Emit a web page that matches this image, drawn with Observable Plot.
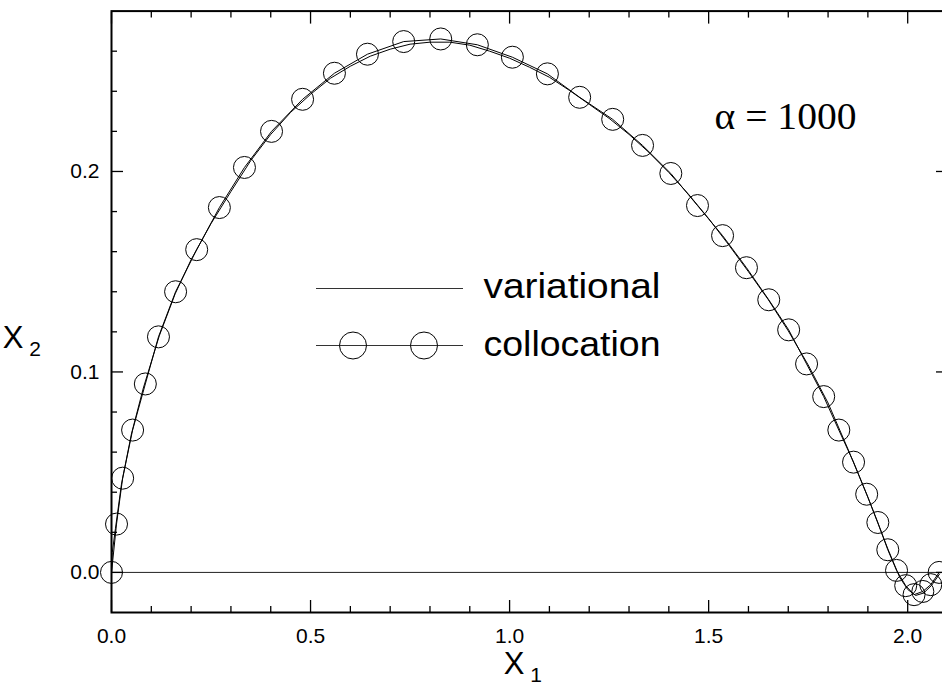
<!DOCTYPE html>
<html>
<head>
<meta charset="utf-8">
<script src="https://cdn.jsdelivr.net/npm/d3@7"></script>
<script src="https://cdn.jsdelivr.net/npm/@observablehq/plot@0.6"></script>
<style>
  html, body { margin: 0; padding: 0; background: #fff; overflow: hidden; }
  #chart svg { display: block; background: #fff; max-width: none !important; }
</style>
</head>
<body>
<div id="chart"></div>
<script>
// Collocation solution (circles)
const collocX = [0, 0.0126, 0.028, 0.053, 0.085, 0.118, 0.161, 0.214, 0.271, 0.334, 0.402,
  0.480, 0.560, 0.643, 0.734, 0.827, 0.919, 1.007, 1.095, 1.176, 1.259, 1.334, 1.405, 1.472,
  1.535, 1.595, 1.651, 1.701, 1.746, 1.789, 1.827, 1.864, 1.897, 1.925, 1.950, 1.972, 1.995,
  2.016, 2.038, 2.058, 2.079];
const collocY = [0, 0.0241, 0.047, 0.071, 0.094, 0.1175, 0.140, 0.161, 0.182, 0.202, 0.220,
  0.236, 0.249, 0.2585, 0.2648, 0.2661, 0.2632, 0.2570, 0.2487, 0.237, 0.226, 0.213, 0.199,
  0.183, 0.168, 0.152, 0.136, 0.121, 0.104, 0.0877, 0.071, 0.055, 0.039, 0.0249, 0.0113,
  0.0010, -0.0066, -0.0111, -0.0095, -0.0061, 0.0000];

// Variational solution (thin line)
const variX = [0, 0.002, 0.01, 0.025, 0.05, 0.08, 0.12, 0.16, 0.2, 0.25, 0.3, 0.35, 0.4, 0.45,
  0.5, 0.55, 0.6, 0.65, 0.7, 0.75, 0.8, 0.85, 0.9, 0.95, 1.0, 1.05, 1.1, 1.15, 1.2, 1.25, 1.3,
  1.35, 1.4, 1.45, 1.5, 1.55, 1.6, 1.65, 1.7, 1.75, 1.8, 1.85, 1.9, 1.95, 1.98, 2.0, 2.02,
  2.04, 2.06, 2.08];
const variY = [0, 0.010, 0.022, 0.044, 0.069, 0.092, 0.118, 0.139, 0.156, 0.174, 0.190, 0.2055,
  0.2185, 0.2295, 0.2385, 0.2465, 0.2525, 0.2575, 0.261, 0.2635, 0.2645, 0.2645, 0.263, 0.260,
  0.2565, 0.252, 0.247, 0.2405, 0.2335, 0.2265, 0.2185, 0.2095, 0.1995, 0.1885, 0.1765, 0.1635,
  0.150, 0.136, 0.1205, 0.1035, 0.0845, 0.0615, 0.0375, 0.0118, -0.0025, -0.0085, -0.0115,
  -0.0103, -0.0065, -0.0008];

const xMajorTicks = [0, 0.5, 1.0, 1.5, 2.0];
const xMinorTicks = [0.1, 0.2, 0.3, 0.4, 0.6, 0.7, 0.8, 0.9, 1.1, 1.2, 1.3, 1.4, 1.6, 1.7, 1.8, 1.9, 2.1];
const yMajorTicks = [0, 0.1, 0.2];
const yMinorTicks = [0.02, 0.04, 0.06, 0.08, 0.12, 0.14, 0.16, 0.18, 0.22, 0.24, 0.26];
const seriesNames = ["variational", "collocation"];
const annotation = "\u03b1 = 1000";

const colloc = collocX.map((x, i) => ({x, y: collocY[i]}));
const vari = variX.map((x, i) => ({x, y: variY[i]}));

const sans = "'Liberation Sans', Arial, Helvetica, sans-serif";
const serif = "'Liberation Serif', 'Times New Roman', serif";
const fmt = d3.format(".1f");
const blank = () => "";

const W = 960, H = 685, ML = 111, MT = 10.6, MR = 13, MB = 73;

const chart = Plot.plot({
  width: W, height: H,
  marginLeft: ML, marginRight: MR, marginTop: MT, marginBottom: MB,
  x: {domain: [0, 2.1], axis: null},
  y: {domain: [-0.02, 0.28], axis: null},
  style: {background: "#fff", maxWidth: "none"},
  marks: [
    Plot.ruleY([0], {stroke: "#222", strokeWidth: 1}),
    Plot.line(vari, {x: "x", y: "y", stroke: "black", strokeWidth: 1, clip: true}),
    Plot.line(colloc, {x: "x", y: "y", stroke: "black", strokeWidth: 1, clip: true}),
    Plot.dot(colloc, {x: "x", y: "y", r: 11, stroke: "black", strokeWidth: 1, fill: "none"}),
    // inward ticks, all four sides
    Plot.axisX({anchor: "bottom", ticks: xMajorTicks, tickSize: -12, tickFormat: blank, label: null, strokeWidth: 1.3}),
    Plot.axisX({anchor: "bottom", ticks: xMinorTicks, tickSize: -6, tickFormat: blank, label: null, strokeWidth: 1.3}),
    Plot.axisX({anchor: "top", ticks: xMajorTicks, tickSize: -12, tickFormat: blank, label: null, strokeWidth: 1.3}),
    Plot.axisX({anchor: "top", ticks: xMinorTicks, tickSize: -6, tickFormat: blank, label: null, strokeWidth: 1.3}),
    Plot.axisY({anchor: "left", ticks: yMajorTicks, tickSize: -12, tickFormat: blank, label: null, strokeWidth: 1.3}),
    Plot.axisY({anchor: "left", ticks: yMinorTicks, tickSize: -6, tickFormat: blank, label: null, strokeWidth: 1.3}),
    Plot.axisY({anchor: "right", ticks: yMajorTicks, tickSize: -12, tickFormat: blank, label: null, strokeWidth: 1.3}),
    Plot.axisY({anchor: "right", ticks: yMinorTicks, tickSize: -6, tickFormat: blank, label: null, strokeWidth: 1.3}),
    // tick labels
    Plot.axisX({anchor: "bottom", ticks: xMajorTicks, tickSize: 0, tickPadding: 16, tickFormat: fmt, label: null,
      fontSize: 21, fontFamily: sans, fill: "black"}),
    Plot.axisY({anchor: "left", ticks: yMajorTicks, tickSize: 0, tickPadding: 12, tickFormat: fmt, label: null,
      fontSize: 21, fontFamily: sans, fill: "black"}),
    Plot.frame({stroke: "black", strokeWidth: 2}),
    // annotation
    Plot.text([annotation], {text: d => d, frameAnchor: "top-left", dx: 714 - ML, dy: 128 - MT,
      textAnchor: "start", lineAnchor: "bottom", fontSize: 38, fontFamily: serif, fill: "black"}),
    // legend labels
    Plot.text([seriesNames[0]], {text: d => d, frameAnchor: "top-left", dx: 483 - ML, dy: 297 - MT,
      textAnchor: "start", lineAnchor: "bottom", fontSize: 35, fontFamily: sans, fill: "black"}),
    Plot.text([seriesNames[1]], {text: d => d, frameAnchor: "top-left", dx: 483 - ML, dy: 355 - MT,
      textAnchor: "start", lineAnchor: "bottom", fontSize: 35, fontFamily: sans, fill: "black"})
  ]
});

chart.style.maxWidth = "none";
chart.style.width = W + "px";
chart.style.height = H + "px";
document.getElementById("chart").appendChild(chart);

const svg = d3.select(chart);
// stretch legend labels and annotation to the reference widths
svg.selectAll("text").filter(function() { return seriesNames.includes(this.textContent); })
  .attr("textLength", 177).attr("lengthAdjust", "spacingAndGlyphs");
svg.selectAll("text").filter(function() { return this.textContent === annotation; })
  .attr("textLength", 142).attr("lengthAdjust", "spacingAndGlyphs");

// legend samples
const leg = svg.append("g").attr("fill", "none").attr("stroke", "black").attr("stroke-width", 1);
leg.append("line").attr("x1", 316).attr("x2", 463).attr("y1", 288.5).attr("y2", 288.5).attr("stroke", "#333");
leg.append("line").attr("x1", 316).attr("x2", 463).attr("y1", 345.5).attr("y2", 345.5).attr("stroke", "#333");
[353, 424].forEach(cx => leg.append("circle").attr("cx", cx).attr("cy", 345.5).attr("r", 13.5));

// axis titles with subscripts
function title(x, y, main, sub) {
  const g = svg.append("g").attr("font-family", sans).attr("fill", "black");
  g.append("text").attr("x", x).attr("y", y).attr("font-size", 31).text(main);
  g.append("text").attr("x", x + 22).attr("y", y + 8).attr("font-size", 21).text(sub);
}
title(514, 674, "X", "1");
title(13, 348, "X", "2");
</script>
</body>
</html>
